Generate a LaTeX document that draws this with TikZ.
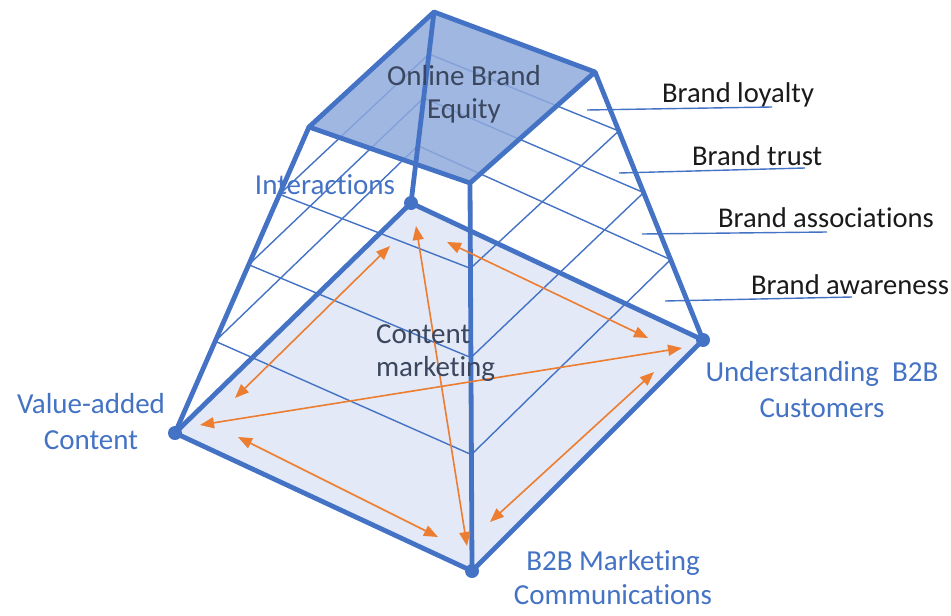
\documentclass[tikz,border=0pt]{standalone}
\usepackage{fontspec}
\setmainfont[Ligatures=NoCommon]{Carlito}
\usetikzlibrary{arrows.meta, calc}

\definecolor{edgeblue}{HTML}{4472C4}
\definecolor{topblue}{HTML}{8FAADC}
\definecolor{baseblue}{HTML}{E3E9F6}
\definecolor{linkorange}{HTML}{ED7D31}
\definecolor{darktext}{HTML}{3A475E}
\definecolor{blacktext}{HTML}{1A1A1A}

\tikzset{
    rim/.style={edgeblue, line width=2.4pt, line join=round},
    level/.style={edgeblue, line width=0.7pt},
    link/.style={linkorange, line width=0.8pt, <->},
    leader/.style={edgeblue, line width=0.7pt},
    cornerdot/.style={circle, fill=edgeblue, inner sep=0pt, minimum size=7pt},
    bluelabel/.style={edgeblue, align=center, font=\fontsize{14.5}{18}\selectfont},
    darklabel/.style={darktext, font=\fontsize{14.5}{16.5}\selectfont},
    brandlabel/.style={blacktext, anchor=west, font=\fontsize{14.3}{17}\selectfont}
}

\begin{document}
\begin{tikzpicture}[x=0.5pt, y=-0.5pt, >={Triangle[length=7pt,width=5.5pt]}]
    \useasboundingbox (0,0) rectangle (951,615);

    % top square
    \coordinate (TB) at (434,12);
    \coordinate (TR) at (595,72);
    \coordinate (TF) at (470,183);
    \coordinate (TL) at (309,127);
    % base square
    \coordinate (BB) at (411,203);
    \coordinate (BR) at (703,340);
    \coordinate (BF) at (472,571);
    \coordinate (BL) at (175,433);

    \fill[baseblue] (BB) -- (BR) -- (BF) -- (BL) -- cycle;

    \foreach \t in {0.22,0.45,0.70}
        \draw[level] ($(TB)!\t!(BB)$) -- ($(TR)!\t!(BR)$) -- ($(TF)!\t!(BF)$) -- ($(TL)!\t!(BL)$) -- cycle;

    \fill[topblue, fill opacity=0.85] (TB) -- (TR) -- (TF) -- (TL) -- cycle;
    \draw[rim] (TB) -- (TR) -- (TF) -- (TL) -- cycle;
    \draw[rim] (BB) -- (BR) -- (BF) -- (BL) -- cycle;
    \draw[rim] (TB) -- (BB);
    \draw[rim] (TR) -- (BR);
    \draw[rim] (TF) -- (BF);
    \draw[rim] (TL) -- (BL);

    \node[cornerdot] (int) at (BB) {};
    \node[cornerdot] (cust) at (BR) {};
    \node[cornerdot] (comm) at (BF) {};
    \node[cornerdot] (val) at (BL) {};

    % links between the base corners
    \coordinate (int-val) at (390,246);
    \coordinate (val-int) at (235,398);
    \coordinate (int-cust) at (447,242);
    \coordinate (cust-int) at (648,338);
    \coordinate (int-comm) at (416,226);
    \coordinate (comm-int) at (467,546);
    \coordinate (val-cust) at (200,425);
    \coordinate (cust-val) at (682,348);
    \coordinate (val-comm) at (238,437);
    \coordinate (comm-val) at (438,537);
    \coordinate (comm-cust) at (490,522);
    \coordinate (cust-comm) at (654,372);

    \draw[link] (int-val) -- (val-int);
    \draw[link] (int-cust) -- (cust-int);
    \draw[link] (int-comm) -- (comm-int);
    \draw[link] (val-cust) -- (cust-val);
    \draw[link] (val-comm) -- (comm-val);
    \draw[link] (comm-cust) -- (cust-comm);

    \node[darklabel, align=center] (equity) at (464,94) {Online Brand\\Equity};
    \node[darklabel, align=left, anchor=west] (content) at (369,353) {Content\\marketing};
    \node[bluelabel] (intlabel) at (325,185) {Interactions};
    \node[bluelabel] (vallabel) at (91,422) {Value-added\\Content};
    \node[bluelabel] (custlabel) at (822,390) {Understanding~ B2B\\Customers};
    \node[bluelabel, font=\fontsize{14.5}{17}\selectfont] (commlabel) at (613,578) {B2B Marketing\\Communications};

    \node[brandlabel] (loyalty) at (655,95) {Brand loyalty};
    \node[brandlabel] (trust) at (685,156) {Brand trust};
    \node[brandlabel] (assoc) at (711,218) {Brand associations};
    \node[brandlabel] (aware) at (744,285) {Brand awareness};

    \coordinate (loyalty-a) at (587,110);
    \coordinate (loyalty-b) at (772,107);
    \coordinate (trust-a) at (619,173);
    \coordinate (trust-b) at (805,168);
    \coordinate (assoc-a) at (642,234);
    \coordinate (assoc-b) at (827,232);
    \coordinate (aware-a) at (665,301);
    \coordinate (aware-b) at (852,297);

    \draw[leader] (loyalty-a) -- (loyalty-b);
    \draw[leader] (trust-a) -- (trust-b);
    \draw[leader] (assoc-a) -- (assoc-b);
    \draw[leader] (aware-a) -- (aware-b);
\end{tikzpicture}
\end{document}
